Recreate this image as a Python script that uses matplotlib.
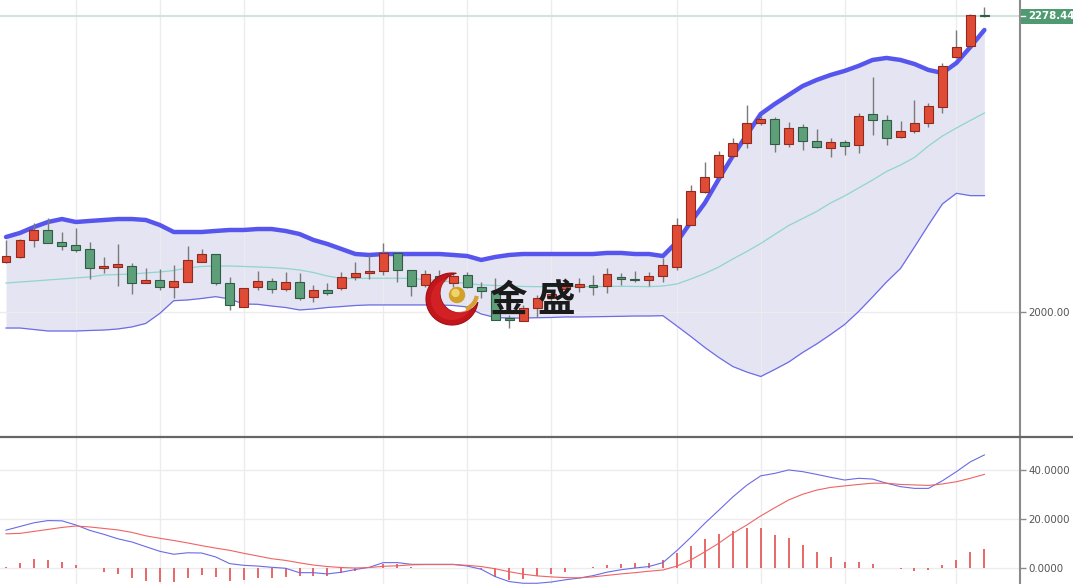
import numpy as np
import matplotlib
matplotlib.use('Agg')
import matplotlib.pyplot as plt
from matplotlib.patches import Polygon, Circle, Arc, Rectangle
from matplotlib.lines import Line2D
from matplotlib.transforms import IdentityTransform

# --- candle data ---
opens = [2047.8, 2052.5, 2068.2, 2077.6, 2066.6, 2063.5, 2059.4, 2041.6, 2043.1, 2043.7,
         2028.0, 2030.6, 2023.7, 2029.0, 2047.5, 2055.0, 2028.0, 2005.5, 2023.7, 2029.9,
         2021.8, 2029.0, 2014.3, 2021.2, 2022.8, 2033.1, 2036.9, 2039.3, 2055.7, 2040.0,
         2025.9, 2034.0, 2028.0, 2035.3, 2023.7, 2019.6, 1994.5, 1992.3, 2004.0, 2013.4,
         2022.1, 2023.7, 2025.9, 2024.9, 2033.7, 2031.5, 2030.6, 2034.3, 2043.1, 2082.3,
         2113.6, 2127.2, 2147.5, 2159.2, 2178.0, 2181.7, 2158.2, 2174.2, 2161.6, 2155.0,
         2160.1, 2157.6, 2186.4, 2181.1, 2164.8, 2171.0, 2178.0, 2193.0, 2240.0, 2250.7,
         2279.8]
highs = [2068.2, 2069.0, 2083.9, 2088.6, 2075.4, 2079.2, 2066.6, 2051.9, 2064.4, 2046.8,
         2041.6, 2040.6, 2044.4, 2062.5, 2059.4, 2055.3, 2033.1, 2023.3, 2039.3, 2032.2,
         2038.4, 2037.4, 2025.9, 2027.5, 2038.4, 2047.8, 2054.1, 2065.1, 2057.2, 2040.3,
         2040.0, 2040.0, 2037.0, 2038.4, 2029.0, 2032.2, 1997.6, 2007.0, 2016.5, 2020.0,
         2032.0, 2032.2, 2035.3, 2041.6, 2037.4, 2039.3, 2038.4, 2051.0, 2088.6, 2119.9,
         2141.8, 2152.2, 2163.8, 2195.2, 2184.8, 2184.2, 2179.5, 2177.0, 2172.6, 2163.8,
         2162.3, 2187.9, 2221.5, 2185.8, 2180.4, 2199.9, 2197.3, 2235.0, 2265.7, 2280.5,
         2287.6]
lows = [2046.8, 2051.5, 2061.9, 2065.0, 2058.8, 2057.2, 2031.2, 2037.4, 2024.9, 2017.4,
        2027.5, 2021.2, 2013.9, 2029.0, 2047.5, 2025.9, 2002.4, 2005.0, 2021.2, 2018.1,
        2020.5, 2011.8, 2010.2, 2016.5, 2021.2, 2030.6, 2031.2, 2035.3, 2029.0, 2015.5,
        2024.3, 2026.0, 2024.0, 2022.7, 2013.4, 1992.5, 1985.1, 1992.0, 1996.0, 2010.0,
        2019.0, 2019.6, 2016.5, 2018.1, 2025.9, 2029.0, 2024.9, 2029.0, 2040.0, 2082.0,
        2112.1, 2125.3, 2146.5, 2154.4, 2176.4, 2151.2, 2156.0, 2152.8, 2154.4, 2146.5,
        2148.1, 2150.3, 2167.0, 2157.6, 2163.9, 2168.6, 2174.2, 2187.9, 2239.6, 2250.0,
        2278.0]
closes = [2053.1, 2068.2, 2077.6, 2065.7, 2062.8, 2058.8, 2041.6, 2043.7, 2045.3, 2028.0,
          2030.6, 2024.3, 2029.3, 2049.4, 2054.7, 2028.0, 2006.8, 2023.0, 2029.9, 2021.8,
          2029.0, 2013.4, 2021.2, 2018.6, 2033.1, 2036.9, 2039.3, 2055.7, 2040.0, 2024.9,
          2036.2, 2030.0, 2034.0, 2024.3, 2020.5, 1992.9, 1992.9, 2004.0, 2013.4, 2017.0,
          2024.9, 2026.8, 2024.3, 2035.9, 2031.2, 2030.6, 2034.3, 2044.7, 2082.3, 2114.3,
          2127.7, 2148.1, 2159.2, 2178.5, 2181.7, 2158.5, 2173.3, 2161.3, 2155.4, 2160.1,
          2156.6, 2185.1, 2181.1, 2163.9, 2171.0, 2178.0, 2194.2, 2231.9, 2250.0, 2279.8,
          2278.44]

# --- bollinger bands ---
upper = [2071.0, 2074.8, 2080.4, 2085.1, 2087.9, 2085.1, 2086.1, 2087.0, 2087.9, 2087.9,
         2087.0, 2082.3, 2075.7, 2075.7, 2075.7, 2076.7, 2077.6, 2077.6, 2078.5, 2078.5,
         2076.7, 2073.8, 2068.2, 2064.4, 2059.7, 2055.0, 2054.1, 2055.0, 2055.0, 2055.0,
         2055.0, 2055.0, 2054.1, 2053.1, 2049.4, 2052.2, 2054.1, 2055.0, 2055.0, 2055.0,
         2055.0, 2055.0, 2055.0, 2056.0, 2056.0, 2055.0, 2055.0, 2053.1, 2066.3, 2085.1,
         2103.0, 2125.6, 2147.2, 2167.0, 2186.7, 2196.1, 2204.6, 2213.0, 2218.7, 2223.4,
         2227.2, 2231.9, 2237.5, 2239.4, 2237.5, 2233.7, 2228.1, 2225.3, 2234.7, 2249.7,
         2265.7]
middle = [2027.7, 2028.7, 2029.6, 2030.6, 2031.5, 2032.5, 2033.4, 2035.3, 2035.7, 2036.2,
          2037.2, 2038.1, 2039.5, 2041.9, 2043.3, 2043.7, 2043.7, 2043.3, 2042.8, 2042.3,
          2041.4, 2040.0, 2037.6, 2034.3, 2032.0, 2032.0, 2032.2, 2032.2, 2032.2, 2032.0,
          2031.0, 2030.1, 2028.7, 2027.3, 2025.9, 2025.4, 2024.9, 2024.5, 2024.3, 2024.3,
          2024.3, 2024.3, 2024.3, 2024.5, 2024.6, 2024.5, 2024.3, 2024.9, 2026.8, 2031.5,
          2036.7, 2042.8, 2050.3, 2057.4, 2064.9, 2073.4, 2081.8, 2088.4, 2095.0, 2103.0,
          2109.6, 2117.1, 2124.6, 2132.6, 2138.7, 2145.8, 2156.6, 2166.0, 2173.5, 2180.6,
          2187.6]
lower = [1985.4, 1985.4, 1984.0, 1982.6, 1982.6, 1982.6, 1983.1, 1983.5, 1984.5, 1986.4,
         1989.7, 1999.1, 2011.1, 2011.8, 2013.2, 2014.9, 2012.7, 2008.0, 2007.7, 2006.1,
         2004.7, 2002.4, 2003.3, 2004.7, 2005.6, 2006.6, 2007.1, 2007.1, 2007.1, 2007.1,
         2007.1, 2007.1, 2006.6, 2005.2, 1998.6, 1995.3, 1994.8, 1994.8, 1995.1, 1995.3,
         1995.8, 1995.8, 1996.0, 1996.2, 1996.4, 1996.7, 1996.7, 1997.0, 1987.3, 1977.4,
         1967.1, 1957.7, 1949.2, 1944.0, 1939.8, 1946.4, 1953.4, 1962.4, 1970.4, 1979.3,
         1988.7, 2000.9, 2014.6, 2028.7, 2041.4, 2061.6, 2082.3, 2102.1, 2112.1, 2109.9,
         2109.9]

# --- MACD panel ---
macd = [15.5, 17.0, 18.5, 19.4, 19.3, 17.6, 15.4, 13.8, 12.0, 10.7,
        8.8, 6.9, 5.7, 6.3, 6.2, 4.6, 1.9, 1.2, 0.9, 0.4,
        0.0, -1.8, -1.8, -2.3, -1.6, -0.5, 0.4, 2.3, 2.3, 1.6,
        1.6, 1.6, 1.6, 0.9, -0.4, -3.4, -5.4, -6.1, -6.1, -5.6,
        -4.7, -4.0, -3.0, -1.6, -0.6, 0.1, 0.7, 2.3, 7.2, 12.6,
        18.3, 23.6, 29.0, 33.8, 37.6, 38.6, 40.0, 39.3, 38.2, 37.0,
        35.9, 36.6, 36.3, 34.6, 33.2, 32.5, 32.5, 35.6, 39.3, 43.3,
        46.1]
signal = [14.0, 14.2, 15.0, 15.8, 16.6, 17.2, 16.8, 16.2, 15.6, 14.6,
          13.2, 12.2, 11.3, 10.3, 9.2, 8.2, 7.3, 6.1, 5.0, 3.9,
          3.2, 2.2, 1.3, 0.7, 0.3, 0.1, 0.3, 0.8, 1.0, 1.4,
          1.5, 1.5, 1.5, 1.2, 0.7, -0.2, -1.4, -2.4, -3.1, -3.5,
          -3.8, -3.9, -3.5, -2.9, -2.3, -1.8, -1.2, -0.7, 0.9, 3.4,
          6.7, 10.2, 14.2, 17.6, 21.3, 24.6, 27.8, 30.1, 31.8, 32.9,
          33.5, 34.1, 34.6, 34.6, 34.1, 33.9, 33.7, 34.3, 35.2, 36.6,
          38.2]
hist = [0.5, 2.0, 3.7, 3.4, 2.7, 1.4, 0.3, -1.4, -2.3, -4.1,
        -5.0, -5.4, -5.4, -4.1, -2.7, -3.4, -5.0, -4.7, -4.1, -4.1,
        -3.4, -3.2, -3.1, -3.0, -2.0, -1.2, 0.0, 1.7, 1.7, 0.4,
        0.3, 0.3, 0.3, 0.3, -0.5, -3.6, -4.7, -4.3, -3.2, -2.2,
        -1.5, 0.0, 0.7, 1.4, 1.8, 2.0, 2.0, 3.4, 6.1, 9.1,
        11.8, 14.0, 15.2, 16.3, 16.3, 13.6, 12.2, 9.5, 6.8, 4.5,
        2.7, 2.4, 1.8, 0.0, -0.4, -1.1, -0.9, 1.4, 3.4, 6.5,
        7.7]

grid_idx = [5, 11, 17, 27, 33, 39, 48, 54, 60, 68]
price_ticks = [2000]
price_labels = ['2000.00']
macd_ticks = [0, 20, 40]
macd_labels = ['0.0000', '20.0000', '40.0000']

W, H = 1073, 584
fig = plt.figure(figsize=(W / 100, H / 100), dpi=100)
fig.patch.set_facecolor('white')

split = 437
ax = fig.add_axes([0, 1 - split / H, 1020 / W, split / H])
ax2 = fig.add_axes([0, 0, 1020 / W, (H - split) / H])

idx = np.arange(len(closes))
o = np.array(opens)
c = np.array(closes)
up = c >= o

for a in (ax, ax2):
    a.set_xlim(-0.43, 72.55)
    for s in ('top', 'left', 'bottom'):
        a.spines[s].set_visible(False)
    a.spines['right'].set_color('#8a8a8a')
    a.spines['right'].set_linewidth(1.5)
    a.set_xticks(grid_idx)
    a.tick_params(axis='x', length=0, labelbottom=False)
    a.yaxis.tick_right()
    a.tick_params(axis='y', length=4, width=1, color='#8a8a8a',
                  labelsize=7.4, labelcolor='#555555', pad=2)
    a.grid(True, color='#ececf0', lw=1)

ax.set_ylim(1882.9, 2293.9)
ax.set_yticks(price_ticks)
ax.set_yticklabels(price_labels)

# bands
ax.fill_between(idx, lower, upper, color='#b3b3de', alpha=0.35, lw=0, zorder=1)
ax.plot(idx, middle, color='#8fd6cc', lw=0.9, zorder=2)
ax.plot(idx, lower, color='#6c6ce6', lw=0.9, zorder=2)
ax.plot(idx, upper, color='#5656ee', lw=3.2, zorder=2, solid_capstyle='round')
ax.axhline(closes[-1], color='#d3e2de', lw=1.5, zorder=1.6)

# candles
ax.vlines(idx, lows, highs, color='#7a7a7a', lw=1, zorder=2.5)
body_col = np.where(up, '#e04b36', '#5e9f7a')
edge_col = np.where(up, '#8e2a1e', '#2f5d44')
ax.bar(idx, np.abs(c - o), bottom=np.minimum(o, c), width=0.64,
       color=body_col, edgecolor=edge_col, linewidth=0.8, zorder=3)

# MACD
ax2.set_ylim(-6.4, 53.4)
ax2.set_yticks(macd_ticks)
ax2.set_yticklabels(macd_labels)
ax2.vlines(idx, 0, hist, color='#e65c5c', lw=1.3, zorder=2)
ax2.plot(idx, macd, color='#6a6ae8', lw=0.8, zorder=3)
ax2.plot(idx, signal, color='#ee6464', lw=0.8, zorder=3)

# separator between panels
fig.add_artist(Line2D([0, 1], [1 - split / H] * 2, transform=fig.transFigure,
                      color='#666666', lw=1.6))

# last price tag
y_pix = ax.transData.transform((0, closes[-1]))[1]
fig.add_artist(Rectangle((1020.5, y_pix - 7.5), 60, 15, transform=IdentityTransform(),
                         facecolor='#4f9a70', edgecolor='none'))
fig.add_artist(Line2D([1021, 1025], [y_pix, y_pix], transform=IdentityTransform(),
                      color='white', lw=1))
fig.text(1028 / W, y_pix / H, f'{closes[-1]:.2f}', color='white', fontsize=7.4,
         fontweight='bold', va='center', ha='left')

# logo overlay
lg = fig.add_axes([0, 0, 1, 1])
lg.set_xlim(0, W)
lg.set_ylim(H, 0)
lg.axis('off')
lg.patch.set_alpha(0)


def crescent(cx, cy, r1, ox, oy, r2, n=120):
    d = np.hypot(ox, oy)
    phi = np.arctan2(oy, ox)
    a = (d ** 2 + r1 ** 2 - r2 ** 2) / (2 * d)
    alpha = np.arctan2(np.sqrt(r1 ** 2 - a ** 2), a)
    t1 = np.linspace(phi + alpha, phi - alpha + 2 * np.pi, n)
    outer = np.c_[cx + r1 * np.cos(t1), cy + r1 * np.sin(t1)]
    c2x, c2y = cx + ox, cy + oy
    pa, pb = outer[0], outer[-1]
    ba = phi + np.mod(np.arctan2(pa[1] - c2y, pa[0] - c2x) - phi, 2 * np.pi)
    bb = phi + np.mod(np.arctan2(pb[1] - c2y, pb[0] - c2x) - phi, 2 * np.pi)
    t2 = np.linspace(bb, ba, n)
    inner = np.c_[c2x + r2 * np.cos(t2), c2y + r2 * np.sin(t2)]
    return np.vstack([outer, inner])


lg.add_patch(Polygon(crescent(452, 299, 26, 8, -6, 20), closed=True,
                     facecolor='#c3161c', edgecolor='#9c0f14', lw=0.8))
lg.add_patch(Polygon(crescent(452, 299, 21, 6, -5, 18), closed=True,
                     facecolor='#dc2a2a', edgecolor='none', alpha=0.6))
lg.add_patch(Circle((457, 295), 7.5, color='#d2a12a'))
lg.add_patch(Circle((455.5, 293), 3.5, color='#f0d36a'))
lg.add_patch(Arc((460, 293), 34, 34, theta1=10, theta2=70, color='#d4a030', lw=3))
lg.text(508, 300, '金', fontsize=27, fontweight='bold',
        family=['Noto Sans CJK SC', 'DejaVu Sans'],
        ha='center', va='center', color='#1b1b1b')
lg.text(557, 300, '盛', fontsize=27, fontweight='bold',
        family=['Noto Sans CJK SC', 'DejaVu Sans'],
        ha='center', va='center', color='#1b1b1b')

fig.savefig('out.png', dpi=100)
